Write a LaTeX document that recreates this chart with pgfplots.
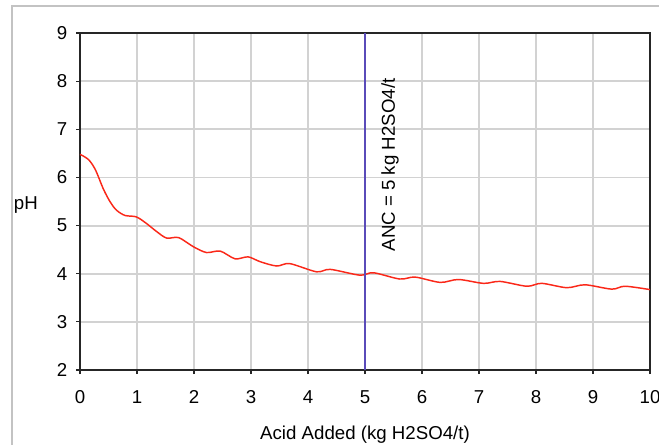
\documentclass[border=0pt]{standalone}
\usepackage{pgfplots}
\pgfplotsset{compat=1.18}
\usepackage{fontspec}
\setmainfont{Liberation Sans}
\definecolor{curvered}{RGB}{250,40,25}
\definecolor{ancblue}{RGB}{90,75,185}
\definecolor{gridgray}{RGB}{210,210,210}
\definecolor{framegray}{RGB}{195,195,195}
\begin{document}
\begin{tikzpicture}
% canvas (659 x 444 px at 0.75pt per px) and outer chart frame
\useasboundingbox (0pt,0pt) rectangle (494.25pt,333pt);
\draw[framegray,line width=1.2pt] (9pt,-2pt) -- (9pt,328.5pt) -- (496pt,328.5pt);
\begin{axis}[
  at={(60pt,55.5pt)}, anchor=south west,
  scale only axis, width=427.5pt, height=252.75pt,
  xmin=0, xmax=10, ymin=2, ymax=9,
  xtick={0,1,...,10}, ytick={2,3,...,9},
  grid=major,
  major grid style={gridgray,line width=1.4pt},
  axis line style={black!85,line width=1.1pt},
  tick style={black!85,line width=0.9pt},
  tick align=outside, major tick length=3pt,
  xtick pos=bottom, ytick pos=left,
  tick label style={font=\fontsize{14}{16.5}\selectfont},
  /pgf/number format/assume math mode=true,
  xticklabel style={yshift=-9pt},
  yticklabel style={xshift=-3pt},
  xlabel={Acid Added (kg H2SO4/t)},
  xlabel style={font=\fontsize{14}{16.5}\selectfont, yshift=-10pt},
  clip=false,
]
\addplot[curvered, line width=1.1pt, smooth, tension=0.5] coordinates {
(0.00,6.48) (0.15,6.37) (0.27,6.16) (0.41,5.76) (0.53,5.49)
(0.64,5.32) (0.79,5.21) (0.99,5.18) (1.17,5.04) (1.34,4.88) (1.52,4.74)
(1.73,4.75) (1.99,4.56) (2.22,4.44) (2.46,4.47) (2.72,4.31) (2.95,4.35)
(3.16,4.25) (3.45,4.16) (3.68,4.21) (4.15,4.04) (4.39,4.09) (4.91,3.97)
(5.15,4.02) (5.61,3.89) (5.88,3.93) (6.32,3.82) (6.64,3.88) (7.08,3.80)
(7.37,3.84) (7.84,3.74) (8.10,3.80) (8.54,3.71) (8.86,3.77) (9.33,3.68)
(9.56,3.74) (10.00,3.67)
};
\addplot[ancblue, line width=0.9pt] coordinates {(5,2) (5,9)};
\node[rotate=90, font=\fontsize{14}{16.5}\selectfont] at (axis cs:5.44,6.26) {ANC = 5 kg H2SO4/t};
\node[font=\fontsize{14}{16.5}\selectfont] at (axis cs:-0.95,5.42) {pH};
\end{axis}
\end{tikzpicture}
\end{document}
